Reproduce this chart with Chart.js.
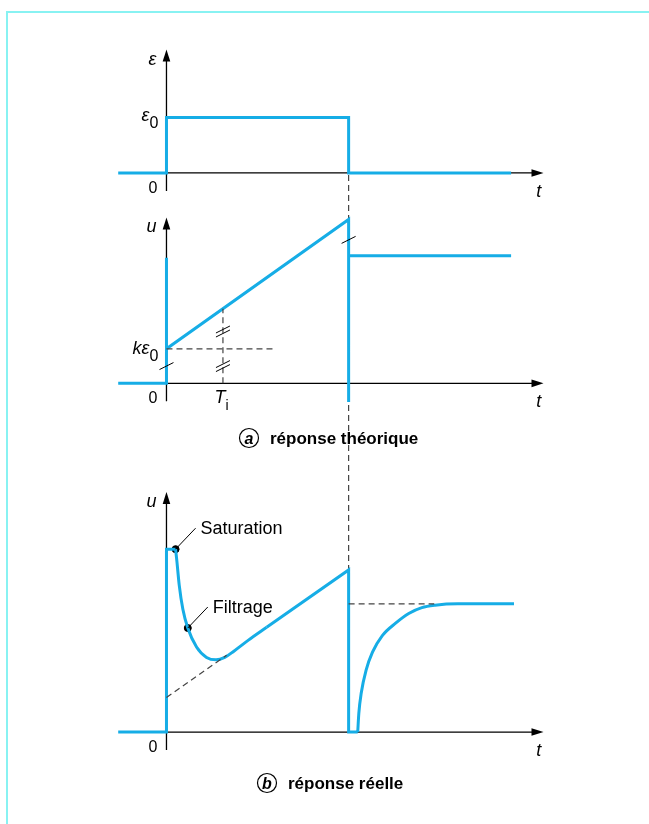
<!DOCTYPE html>
<html>
<head>
<meta charset="UTF-8">
<title>Réponse théorique et réelle</title>
<script src="https://cdn.jsdelivr.net/npm/chart.js"></script>
<style>
  body { margin: 0; background: #fff; }
  #wrap { position: relative; width: 649px; height: 824px; overflow: hidden; }
  #frame { position: absolute; left: 6px; top: 11px; right: -10px; bottom: -10px;
           border-left: 2px solid #88f2f2; border-top: 2px solid #88f2f2; }
  canvas { position: absolute; left: 0; top: 0; }
</style>
</head>
<body>
<div id="wrap">
  <div id="frame"></div>
  <canvas id="chart" width="649" height="824"></canvas>
</div>
<script>
// temps : 0 = début de l'échelon, 1 = fin de l'échelon
const tStart = -0.265, tEnd = 1.892, Ti = 0.31;

// entrée : échelon d'écart ε
const tEps = [tStart, 0, 0, 1, 1, tEnd];
const eps  = [0, 0, 1, 1, 0, 0];

// (a) réponse théorique, unité kε0
const tTheo = [tStart, 0, 0, 0, 1, 1, 1, tEnd];
const uTheo = [0, 0, 3.63, 1, 4.74, -0.54, 3.69, 3.69];

// (b) réponse réelle
const tSat  = [tStart, 0, 0, 0.05];
const uSat  = [0, 0, 5.29, 5.29];
const tFilt = [0.05, 0.057, 0.07, 0.09, 0.117, 0.165, 0.22, 0.272, 0.32, 0.37, 0.45, 0.55];
const uFilt = [5.29, 4.95, 4.25, 3.55, 3.01, 2.46, 2.16, 2.09, 2.16, 2.34, 2.66, 3.03];
const tRamp = [0.55, 1, 1, 1.05];
const uRamp = [3.03, 4.69, 0, 0];
const tBack = [1.05, 1.056, 1.069, 1.096, 1.131, 1.185, 1.258, 1.33, 1.402, 1.474, 1.6, 1.908];
const uBack = [0, 0.54, 1.12, 1.79, 2.31, 2.79, 3.15, 3.43, 3.6, 3.67, 3.71, 3.71];
const tDots = [0.05, 0.117];
const uDots = [5.29, 3.01];
const notes = ['Saturation', 'Filtrage'];

// pointillés
const tKe  = [0, 0.6],    uKe  = [1, 1];
const tTi  = [Ti, Ti],    uTi  = [0, 2.16];
const tExt = [0, 0.33],   uExt = [1.0, 2.22];
const tFin = [1, 1.47],   uFin = [3.71, 3.71];

const BLUE = '#16ade6';
const W = 649, H = 824;

// axes sans graduation : on cale les échelles sur la page
function xRange(v0, p0, v1, p1) {
  const k = (p1 - p0) / (v1 - v0);
  return { min: v0 - p0 / k, max: v0 + (W - p0) / k };
}
function yRange(v0, p0, v1, p1) {
  const k = (p0 - p1) / (v1 - v0);
  return { min: v0 - (H - p0) / k, max: v0 + p0 / k };
}

function pts(ts, vs) { return ts.map((t, i) => ({ x: t, y: vs[i] })); }
function blue(ts, vs, axis, extra) {
  return Object.assign({
    data: pts(ts, vs), yAxisID: axis, showLine: true,
    borderColor: BLUE, borderWidth: 3, pointRadius: 0,
    borderJoinStyle: 'miter', borderCapStyle: 'butt', tension: 0
  }, extra || {});
}
function dashed(ts, vs, axis) {
  return {
    data: pts(ts, vs), yAxisID: axis, showLine: true,
    borderColor: '#444', borderWidth: 1.2, borderDash: [6, 4], pointRadius: 0
  };
}

const panels = [
  { id: 'yE', top: 2.23, name: 'ε' },
  { id: 'yA', top: 4.8, name: 'u' },
  { id: 'yB', top: 6.94, name: 'u' }
];

// axes et pointillé commun : sous les courbes
const axesUnder = {
  id: 'axesUnder',
  beforeDatasetsDraw(chart) {
    const { ctx, scales } = chart;
    const X = v => scales.x.getPixelForValue(v);
    const x0 = X(0);
    ctx.save();
    ctx.strokeStyle = '#444';
    ctx.lineWidth = 1.2;
    ctx.setLineDash([6, 4]);
    ctx.beginPath();
    ctx.moveTo(X(1), scales.yE.getPixelForValue(0) + 2);
    ctx.lineTo(X(1), scales.yB.getPixelForValue(uRamp[1]));
    ctx.stroke();
    ctx.setLineDash([]);

    ctx.fillStyle = '#000';
    ctx.strokeStyle = '#000';
    panels.forEach(p => {
      const s = scales[p.id];
      const y0 = s.getPixelForValue(0);
      const yt = s.getPixelForValue(p.top);
      const xr = X(2.07);
      ctx.lineWidth = 1.3;
      ctx.beginPath();
      ctx.moveTo(x0, y0 + 18); ctx.lineTo(x0, yt + 8);
      ctx.moveTo(x0, y0); ctx.lineTo(xr - 8, y0);
      ctx.stroke();
      ctx.beginPath();
      ctx.moveTo(x0, yt); ctx.lineTo(x0 - 3.8, yt + 12); ctx.lineTo(x0 + 3.8, yt + 12);
      ctx.closePath(); ctx.fill();
      ctx.beginPath();
      ctx.moveTo(xr, y0); ctx.lineTo(xr - 12, y0 - 3.8); ctx.lineTo(xr - 12, y0 + 3.8);
      ctx.closePath(); ctx.fill();
    });
    ctx.restore();
  }
};

// textes, coupures, repères : au-dessus
const decor = {
  id: 'decor',
  afterDatasetsDraw(chart) {
    const { ctx, scales } = chart;
    const X = v => scales.x.getPixelForValue(v);
    const x0 = X(0);
    ctx.save();
    ctx.fillStyle = '#000';
    ctx.strokeStyle = '#000';

    panels.forEach(p => {
      const s = scales[p.id];
      const y0 = s.getPixelForValue(0);
      const yt = s.getPixelForValue(p.top);
      ctx.font = 'italic 18px "Liberation Sans"';
      ctx.textAlign = 'right';
      ctx.fillText(p.name, x0 - 10, yt + 15);
      ctx.textAlign = 'left';
      ctx.fillText('t', X(2.03), y0 + 24);
      ctx.font = '16px "Liberation Sans"';
      ctx.textAlign = 'right';
      ctx.fillText('0', x0 - 9, y0 + 20);
    });

    // ε0 et kε0
    const yE1 = scales.yE.getPixelForValue(1);
    ctx.font = 'italic 18px "Liberation Sans"';
    ctx.textAlign = 'right';
    ctx.fillText('ε', x0 - 17, yE1 + 3);
    const yK = scales.yA.getPixelForValue(1);
    ctx.fillText('kε', x0 - 17, yK + 5);
    ctx.font = '16px "Liberation Sans"';
    ctx.textAlign = 'left';
    ctx.fillText('0', x0 - 17, yE1 + 10);
    ctx.fillText('0', x0 - 17, yK + 12);

    // Ti
    const y0A = scales.yA.getPixelForValue(0);
    ctx.font = 'italic 18px "Liberation Sans"';
    ctx.textAlign = 'center';
    ctx.fillText('T', X(Ti) - 3, y0A + 20);
    ctx.font = '14px "Liberation Sans"';
    ctx.fillText('i', X(Ti) + 4, y0A + 27);

    // petits traits de coupure
    function slash(px, py, dy) {
      ctx.beginPath();
      ctx.moveTo(px - 7, py + 3.5 + dy); ctx.lineTo(px + 7, py - 3.5 + dy);
      ctx.stroke();
    }
    ctx.lineWidth = 1;
    slash(x0, scales.yA.getPixelForValue(0.5), 0);
    slash(X(1), scales.yA.getPixelForValue(4.15), 0);
    [1.5, 0.5].forEach(v => {
      const py = scales.yA.getPixelForValue(v);
      slash(X(Ti), py, -2);
      slash(X(Ti), py, 2);
    });

    // annotations Saturation / Filtrage
    ctx.font = '18px "Liberation Sans"';
    ctx.textAlign = 'left';
    ctx.lineWidth = 1;
    tDots.forEach((t, i) => {
      const px = X(t), py = scales.yB.getPixelForValue(uDots[i]);
      ctx.beginPath();
      ctx.moveTo(px, py); ctx.lineTo(px + 20, py - 21);
      ctx.stroke();
      ctx.fillText(notes[i], px + 25, py - 15);
    });

    // légendes a et b
    function caption(cx, cy, letter, text) {
      ctx.lineWidth = 1.2;
      ctx.beginPath();
      ctx.arc(cx, cy, 9.5, 0, Math.PI * 2);
      ctx.stroke();
      ctx.font = 'italic bold 16px "Liberation Sans"';
      ctx.textAlign = 'center';
      ctx.fillText(letter, cx, cy + 5.5);
      ctx.font = 'bold 17px "Liberation Sans"';
      ctx.textAlign = 'left';
      ctx.fillText(text, cx + 21, cy + 6);
    }
    caption(249, 438, 'a', 'réponse théorique');
    caption(267, 783, 'b', 'réponse réelle');

    ctx.restore();
  }
};

new Chart(document.getElementById('chart'), {
  type: 'scatter',
  data: {
    datasets: [
      dashed(tKe, uKe, 'yA'),
      dashed(tTi, uTi, 'yA'),
      dashed(tExt, uExt, 'yB'),
      dashed(tFin, uFin, 'yB'),
      blue(tEps, eps, 'yE'),
      blue(tTheo, uTheo, 'yA'),
      blue(tSat, uSat, 'yB'),
      blue(tFilt, uFilt, 'yB', { cubicInterpolationMode: 'monotone' }),
      blue(tRamp, uRamp, 'yB'),
      blue(tBack, uBack, 'yB', { cubicInterpolationMode: 'monotone' }),
      {
        data: pts(tDots, uDots), yAxisID: 'yB', showLine: false,
        pointRadius: 3.5, pointBackgroundColor: '#000', pointBorderColor: '#000'
      }
    ]
  },
  options: {
    responsive: false,
    animation: false,
    layout: { padding: 0 },
    plugins: { legend: { display: false }, tooltip: { enabled: false } },
    scales: {
      x:  Object.assign({ type: 'linear', display: false }, xRange(0, 164, 1, 349)),
      yE: Object.assign({ type: 'linear', display: false }, yRange(0, 170, 1, 114)),
      yA: Object.assign({ type: 'linear', display: false }, yRange(0, 383, 1, 348)),
      yB: Object.assign({ type: 'linear', display: false }, yRange(0, 736, 1, 701))
    }
  },
  plugins: [axesUnder, decor]
});
</script>
</body>
</html>
